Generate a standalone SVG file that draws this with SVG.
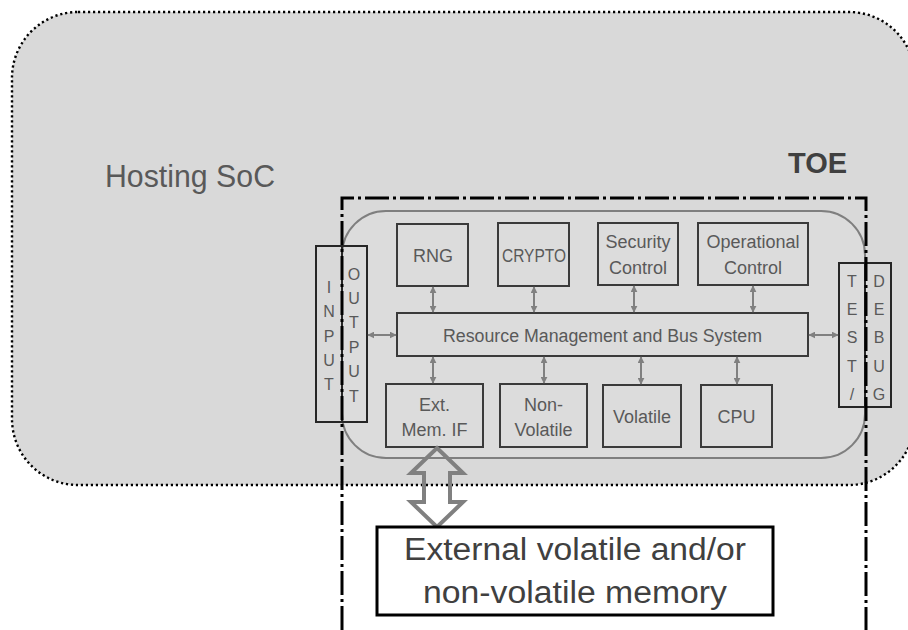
<svg xmlns="http://www.w3.org/2000/svg" width="908" height="630" viewBox="0 0 908 630">
  <style>
    text { font-family: "Liberation Sans", Arial, sans-serif; fill: #595959; }
    .lbl { font-size: 18px; text-anchor: middle; }
    .vert { font-size: 16px; text-anchor: middle; }
    .box { fill: none; stroke: #3a3a3a; stroke-width: 2; }
    .port { fill: none; stroke: #262626; stroke-width: 2; }
    .bus { fill: none; stroke: #808080; stroke-width: 2; marker-start: url(#ah); marker-end: url(#ah); }
  </style>
  <defs>
    <marker id="ah" viewBox="0 0 10 10" refX="9" refY="5" markerUnits="userSpaceOnUse" markerWidth="7" markerHeight="7" orient="auto-start-reverse">
      <path d="M0,0 L10,5 L0,10 Z" fill="#808080"/>
    </marker>
  </defs>

  <!-- Hosting SoC outline -->
  <g id="hosting-soc">
    <rect x="12" y="12" width="903" height="473" rx="66" ry="66" fill="#d9d9d9" stroke="#000" stroke-width="2.4" stroke-dasharray="2.2 2.8"/>
    <text x="105" y="187" font-size="31" textLength="170" lengthAdjust="spacingAndGlyphs">Hosting SoC</text>
  </g>

  <!-- TOE body -->
  <g id="toe-body">
    <rect x="342" y="211" width="523" height="247" rx="44" ry="44" fill="#dcdcdc" stroke="#7f7f7f" stroke-width="2"/>
  </g>

  <!-- Functional blocks -->
  <g id="rng">
    <rect class="box" x="397" y="224" width="71" height="62"/>
    <text class="lbl" x="433" y="262">RNG</text>
  </g>
  <g id="crypto">
    <rect class="box" x="498" y="223" width="71" height="63"/>
    <text class="lbl" x="534" y="262" textLength="64" lengthAdjust="spacingAndGlyphs">CRYPTO</text>
  </g>
  <g id="security-control">
    <rect class="box" x="598" y="223" width="80" height="62"/>
    <text class="lbl" x="638" y="248">Security</text>
    <text class="lbl" x="638" y="274">Control</text>
  </g>
  <g id="operational-control">
    <rect class="box" x="698" y="223" width="110" height="62"/>
    <text class="lbl" x="753" y="248">Operational</text>
    <text class="lbl" x="753" y="274">Control</text>
  </g>
  <g id="resource-management">
    <rect class="box" x="397" y="313" width="411" height="43"/>
    <text class="lbl" x="602.5" y="342" textLength="319" lengthAdjust="spacingAndGlyphs">Resource Management and Bus System</text>
  </g>
  <g id="ext-mem-if">
    <rect class="box" x="386" y="384" width="97" height="63"/>
    <text class="lbl" x="434.5" y="411">Ext.</text>
    <text class="lbl" x="434.5" y="436">Mem. IF</text>
  </g>
  <g id="non-volatile">
    <rect class="box" x="500" y="384" width="87" height="63"/>
    <text class="lbl" x="543.5" y="411">Non-</text>
    <text class="lbl" x="543.5" y="436">Volatile</text>
  </g>
  <g id="volatile">
    <rect class="box" x="603" y="385" width="78" height="62"/>
    <text class="lbl" x="642" y="423">Volatile</text>
  </g>
  <g id="cpu">
    <rect class="box" x="701" y="385" width="71" height="62"/>
    <text class="lbl" x="736.5" y="423">CPU</text>
  </g>

  <!-- Ports -->
  <g id="input">
    <rect class="port" x="316" y="246" width="26" height="176"/>
    <text class="vert" x="329" y="293">I</text>
    <text class="vert" x="329" y="317">N</text>
    <text class="vert" x="329" y="342">P</text>
    <text class="vert" x="329" y="366">U</text>
    <text class="vert" x="329" y="390">T</text>
  </g>
  <g id="output">
    <rect class="port" x="342" y="246" width="25" height="176"/>
    <text class="vert" x="354" y="280">O</text>
    <text class="vert" x="354" y="304">U</text>
    <text class="vert" x="354" y="328">T</text>
    <text class="vert" x="354" y="353">P</text>
    <text class="vert" x="354" y="377">U</text>
    <text class="vert" x="354" y="402">T</text>
  </g>
  <g id="test">
    <rect class="port" x="839" y="263" width="26" height="144"/>
    <text class="vert" x="852" y="287">T</text>
    <text class="vert" x="852" y="315">E</text>
    <text class="vert" x="852" y="343">S</text>
    <text class="vert" x="852" y="372">T</text>
    <text class="vert" x="852" y="400">/</text>
  </g>
  <g id="debug">
    <rect class="port" x="865" y="263" width="26" height="144"/>
    <text class="vert" x="879" y="287">D</text>
    <text class="vert" x="879" y="315">E</text>
    <text class="vert" x="879" y="343">B</text>
    <text class="vert" x="879" y="372">U</text>
    <text class="vert" x="879" y="400">G</text>
  </g>

  <!-- Bus connectors -->
  <g id="connectors">
    <line class="bus" x1="433" y1="287" x2="433" y2="312"/>
    <line class="bus" x1="534" y1="287" x2="534" y2="312"/>
    <line class="bus" x1="634" y1="286" x2="634" y2="312"/>
    <line class="bus" x1="753" y1="286" x2="753" y2="312"/>
    <line class="bus" x1="433" y1="357" x2="433" y2="383"/>
    <line class="bus" x1="544" y1="357" x2="544" y2="383"/>
    <line class="bus" x1="641" y1="357" x2="641" y2="384"/>
    <line class="bus" x1="737" y1="357" x2="737" y2="384"/>
    <line class="bus" x1="368" y1="335" x2="396" y2="335"/>
    <line class="bus" x1="809" y1="335" x2="838" y2="335"/>
    <path d="M437,448 L463,473 L450,473 L450,502 L463,502 L437,527 L411,502 L424,502 L424,473 L411,473 Z" fill="none" stroke="#808080" stroke-width="4" stroke-linejoin="miter"/>
  </g>

  <!-- External memory -->
  <g id="external-memory">
    <rect x="377" y="527" width="396" height="88" fill="#fff" stroke="#000" stroke-width="3"/>
    <text x="575" y="560" font-size="31" text-anchor="middle" style="fill:#404040" textLength="342" lengthAdjust="spacingAndGlyphs">External volatile and/or</text>
    <text x="575" y="603" font-size="31" text-anchor="middle" style="fill:#404040" textLength="304" lengthAdjust="spacingAndGlyphs">non-volatile memory</text>
  </g>

  <!-- TOE boundary -->
  <g id="toe">
    <path d="M342,630 V198 H866 V630" fill="none" stroke="#000" stroke-width="3" stroke-dasharray="24 4 3 4"/>
    <text x="788" y="173" font-size="29" font-weight="bold" style="fill:#404040">TOE</text>
  </g>
</svg>
